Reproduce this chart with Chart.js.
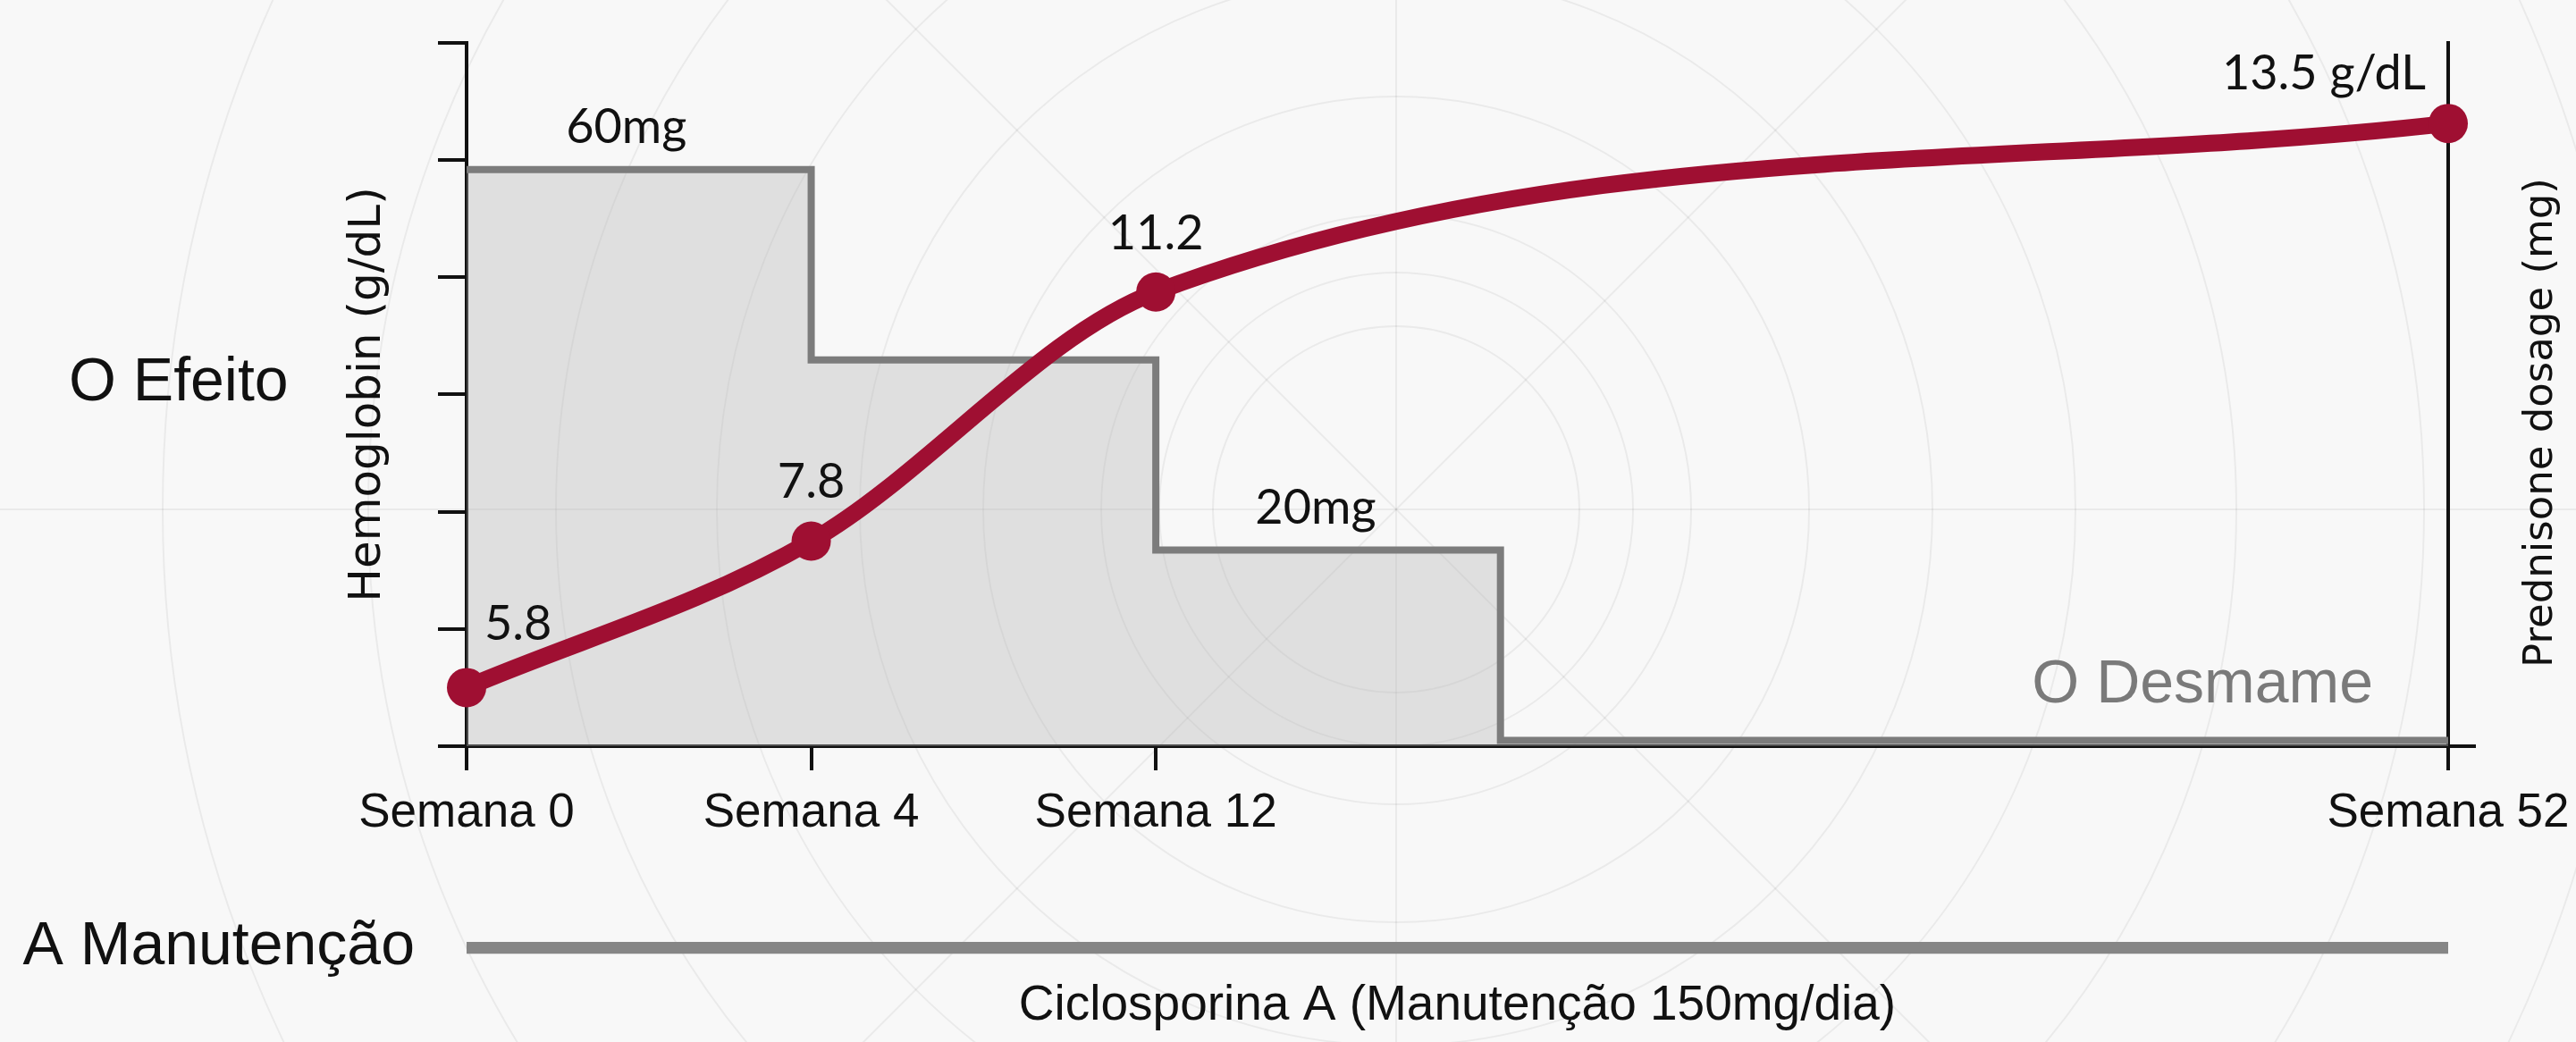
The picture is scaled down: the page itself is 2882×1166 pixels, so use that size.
<!DOCTYPE html>
<html>
<head>
<meta charset="utf-8">
<script src="https://cdn.jsdelivr.net/npm/chart.js@4.4.1/dist/chart.umd.min.js"></script>
<style>
  html, body { margin: 0; padding: 0; background: #f8f8f8; }
  #wrap { position: relative; width: 2882px; height: 1166px; overflow: hidden; }
  #wrap canvas { position: absolute; left: 0; top: 0; }
</style>
</head>
<body>
<div id="wrap">
  <canvas id="main" width="2882" height="1166" style="width:2882px;height:1166px"></canvas>
  <canvas id="cyc" width="2882" height="1166" style="width:2882px;height:1166px"></canvas>
</div>
<script>
// ---------- DATA ----------
// timeline slots (only the labelled ones are shown)
const categories = [
  'Semana 0', '', '', '', 'Semana 4', '', '', '', 'Semana 12', '', '', '',
  '', '', '', '', '', '', '', '', '', '', '', 'Semana 52'
];
// Hemoglobin (g/dL)
const hemoglobin = [
  5.8, null, null, null, 7.8, null, null, null, 11.2, null, null, null,
  null, null, null, null, null, null, null, null, null, null, null, 13.5
];
const hemoglobinLabels = ['5.8', '7.8', '11.2', '13.5 g/dL'];
// Prednisone dosage (mg) – step taper
const prednisone = [
  60, null, null, null, 40, null, null, null, 20, null, null, null,
  0, null, null, null, null, null, null, null, null, null, null, 0
];
const prednisoneLabels = ['60mg', null, '20mg', null, null];
// Ciclosporina A maintenance (weeks)
const cyclosporineCategory = ['A Manutenção'];
const cyclosporineWeeks = [[0, 52]];

// ---------- STYLE ----------
const RED = '#9f0f32';
const INK = '#111111';
const SANS = 'Liberation Sans';

const decorPlugin = {
  id: 'decor',
  beforeDraw(chart) {
    const ctx = chart.ctx;
    ctx.save();
    ctx.fillStyle = '#f8f8f8';
    ctx.fillRect(0, 0, chart.width, chart.height);
    const cx = 1562, cy = 570;
    ctx.strokeStyle = 'rgba(0,0,0,0.055)';
    ctx.lineWidth = 2;
    [205, 265, 330, 462, 600, 760, 940, 1150, 1380].forEach(r => {
      ctx.beginPath(); ctx.arc(cx, cy, r, 0, Math.PI * 2); ctx.stroke();
    });
    const L = 4000;
    for (let k = 0; k < 4; k++) {
      const a = k * Math.PI / 4;
      ctx.beginPath();
      ctx.moveTo(cx - L * Math.cos(a), cy - L * Math.sin(a));
      ctx.lineTo(cx + L * Math.cos(a), cy + L * Math.sin(a));
      ctx.stroke();
    }
    ctx.restore();
  }
};

const textPlugin = {
  id: 'texts',
  afterDatasetsDraw(chart) {
    const ctx = chart.ctx;
    ctx.save();
    // hemoglobin value labels
    const hMeta = chart.getDatasetMeta(0);
    const idx = [];
    hemoglobin.forEach((v, i) => { if (v !== null) idx.push(i); });
    ctx.fillStyle = INK;
    ctx.font = '54px Lato';
    ctx.textBaseline = 'alphabetic';
    idx.forEach((i, k) => {
      const p = hMeta.data[i];
      if (k === 0) { ctx.textAlign = 'left'; ctx.fillText(hemoglobinLabels[k], p.x + 20, p.y - 53); }
      else if (k === idx.length - 1) { ctx.textAlign = 'right'; ctx.fillText(hemoglobinLabels[k], p.x - 25, p.y - 38); }
      else { ctx.textAlign = 'center'; ctx.fillText(hemoglobinLabels[k], p.x, p.y - 48); }
    });
    // prednisone step labels
    const pMeta = chart.getDatasetMeta(1);
    const pIdx = [];
    prednisone.forEach((v, i) => { if (v !== null) pIdx.push(i); });
    ctx.textAlign = 'center';
    pIdx.forEach((i, k) => {
      const lab = prednisoneLabels[k];
      if (!lab || k === pIdx.length - 1) return;
      const a = pMeta.data[i], b = pMeta.data[pIdx[k + 1]];
      ctx.fillText(lab, (a.x + b.x) / 2 - 14, a.y - 30);
    });
    ctx.restore();
  },
  afterDraw(chart) {
    const ctx = chart.ctx;
    const area = chart.chartArea;
    ctx.save();
    ctx.fillStyle = INK;
    ctx.textBaseline = 'alphabetic';
    ctx.textAlign = 'left';
    ctx.font = '68px ' + SANS;
    ctx.fillText('O Efeito', 77, 448);
    ctx.fillStyle = '#7a7a7a';
    ctx.textAlign = 'right';
    ctx.fillText('O Desmame', area.right - 84, area.bottom - 49);
    // right axis title, reading bottom-to-top
    ctx.fillStyle = INK;
    ctx.font = '45px "DejaVu Sans"';
    ctx.textAlign = 'center';
    ctx.textBaseline = 'middle';
    ctx.translate(2843, 473);
    ctx.rotate(-Math.PI / 2);
    ctx.fillText('Prednisone dosage (mg)', 0, 0);
    ctx.restore();
  }
};

const tickColor = c => (c.tick && c.tick.label) ? INK : 'rgba(0,0,0,0)';

new Chart(document.getElementById('main'), {
  type: 'line',
  data: {
    labels: categories,
    datasets: [
      {
        label: 'Hemoglobin (g/dL)',
        data: hemoglobin,
        yAxisID: 'y',
        borderColor: RED,
        backgroundColor: RED,
        borderWidth: 19,
        borderCapStyle: 'round',
        pointRadius: 22,
        pointHoverRadius: 22,
        pointBackgroundColor: RED,
        pointBorderWidth: 0,
        cubicInterpolationMode: 'monotone',
        spanGaps: true,
        fill: false,
        clip: false,
        order: 0
      },
      {
        label: 'Prednisone dosage (mg)',
        data: prednisone,
        yAxisID: 'y2',
        stepped: true,
        spanGaps: true,
        borderColor: '#7c7c7c',
        borderWidth: 8,
        backgroundColor: 'rgba(180,180,180,0.36)',
        fill: 'start',
        pointRadius: 0,
        pointHoverRadius: 0,
        order: 1
      }
    ]
  },
  options: {
    responsive: false,
    animation: false,
    devicePixelRatio: 1,
    events: [],
    layout: { padding: { top: 48, left: 0, right: 0, bottom: 211 } },
    plugins: { legend: { display: false }, tooltip: { enabled: false } },
    scales: {
      x: {
        type: 'category',
        offset: false,
        border: { display: true, color: INK, width: 4 },
        grid: { drawOnChartArea: false, drawTicks: true, tickLength: 27, lineWidth: 4, color: tickColor, tickColor: tickColor, offset: false },
        ticks: { autoSkip: false, maxRotation: 0, minRotation: 0, padding: 17, color: INK, font: { family: SANS, size: 53 } },
        afterFit: s => { s.height = 120; s.paddingLeft = 0; s.paddingRight = 0; }
      },
      y: {
        position: 'left',
        min: 5,
        max: 14.6,
        border: { display: true, color: INK, width: 4 },
        grid: { drawOnChartArea: false, drawTicks: true, tickLength: 32, lineWidth: 4, color: INK },
        ticks: { display: false },
        afterBuildTicks: s => {
          const t = [];
          for (let i = 0; i <= 6; i++) t.push({ value: s.min + i * (s.max - s.min) / 6 });
          s.ticks = t;
        },
        title: { display: true, text: 'Hemoglobin (g/dL)', color: INK, font: { family: 'DejaVu Sans', size: 50 }, padding: { top: 382, bottom: 0 } },
        afterFit: s => { s.width = 522; }
      },
      y2: {
        position: 'right',
        min: -0.6,
        max: 73.3,
        border: { display: true, color: INK, width: 4 },
        grid: { drawOnChartArea: false, drawTicks: true, tickLength: 31, lineWidth: 4, color: INK },
        ticks: { display: false },
        afterBuildTicks: s => { s.ticks = [{ value: s.min }]; },
        afterFit: s => { s.width = 143; }
      }
    }
  },
  plugins: [decorPlugin, textPlugin]
});

new Chart(document.getElementById('cyc'), {
  type: 'bar',
  data: {
    labels: cyclosporineCategory,
    datasets: [{
      label: 'Ciclosporina A',
      data: cyclosporineWeeks,
      backgroundColor: '#868686',
      borderWidth: 0,
      borderSkipped: false,
      barThickness: 22
    }]
  },
  options: {
    indexAxis: 'y',
    responsive: false,
    animation: false,
    devicePixelRatio: 1,
    events: [],
    layout: { padding: { top: 1054, bottom: 0, left: 0, right: 143 } },
    plugins: { legend: { display: false }, tooltip: { enabled: false } },
    scales: {
      x: {
        type: 'linear', min: 0, max: 52,
        grid: { display: false, drawTicks: false },
        border: { display: false },
        ticks: { display: false },
        title: { display: true, text: 'Ciclosporina A (Manutenção 150mg/dia)', color: INK, font: { family: SANS, size: 55 }, padding: { top: 0, bottom: -24 } },
        afterFit: s => { s.height = 68; s.paddingLeft = 0; s.paddingRight = 0; }
      },
      y: {
        grid: { display: false, drawTicks: false },
        border: { display: false },
        ticks: { color: INK, font: { family: SANS, size: 68 }, padding: 58 },
        afterFit: s => { s.width = 522; }
      }
    }
  }
});
</script>
</body>
</html>
